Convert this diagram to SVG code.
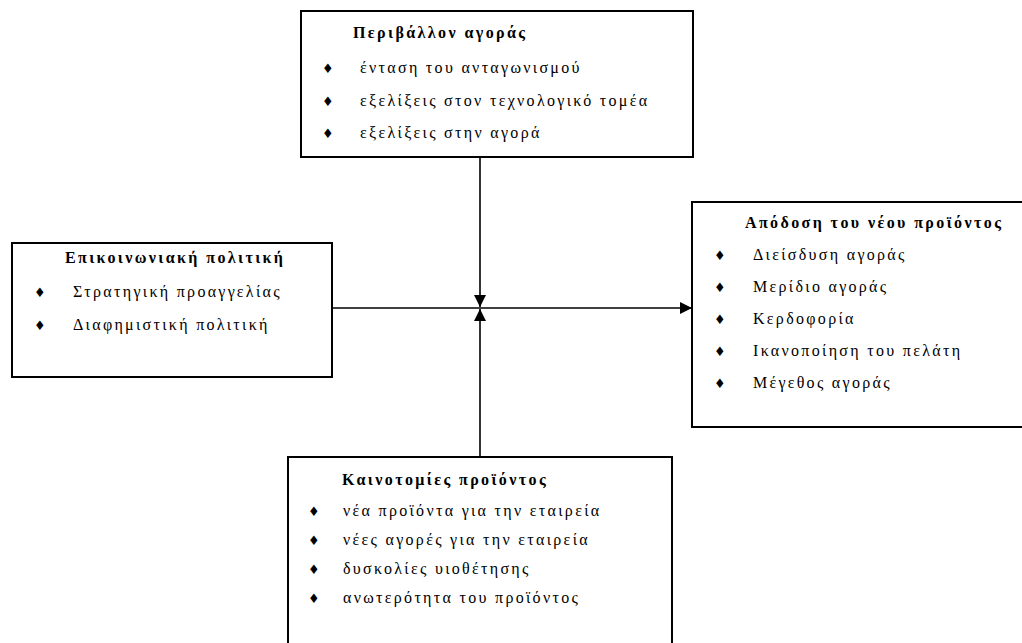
<svg xmlns="http://www.w3.org/2000/svg" width="1022" height="643" viewBox="0 0 1022 643">
<style>
.box{fill:#fff;stroke:#000;stroke-width:2}
.t{font-family:"Liberation Serif","Times New Roman",serif;font-size:16px;fill:#000;letter-spacing:2.3px}
.h{font-family:"Liberation Serif","Times New Roman",serif;font-size:16px;font-weight:bold;fill:#000;letter-spacing:2.4px}
.b{font-family:"DejaVu Sans",sans-serif;font-size:13px;fill:#000}
.ln{stroke:#000;stroke-width:1.6;fill:none}
</style>
<defs>
<marker id="ah" viewBox="0 0 12 12" refX="12" refY="6" markerWidth="12" markerHeight="12" markerUnits="userSpaceOnUse" orient="auto">
<path d="M0,0 L12,6 L0,12 Z" fill="#000"/>
</marker>
</defs>
<rect width="1022" height="643" fill="#fff"/>
<g id="connectors">
<line class="ln" x1="480" y1="157" x2="480" y2="307" marker-end="url(#ah)"/>
<line class="ln" x1="480" y1="457" x2="480" y2="309" marker-end="url(#ah)"/>
<line class="ln" x1="332" y1="308" x2="692" y2="308" marker-end="url(#ah)"/>
</g>
<g id="market">
<rect class="box" x="301" y="11" width="392" height="146"/>
<text class="h" x="353" y="38">Περιβάλλον αγοράς</text>
<text class="b" x="322" y="73">♦</text>
<text class="t" x="360" y="73">ένταση του ανταγωνισμού</text>
<text class="b" x="322" y="106">♦</text>
<text class="t" x="360" y="106">εξελίξεις στον τεχνολογικό τομέα</text>
<text class="b" x="322" y="138">♦</text>
<text class="t" x="360" y="138">εξελίξεις στην αγορά</text>
</g>
<g id="communication">
<rect class="box" x="12" y="243" width="320" height="134"/>
<text class="h" x="65" y="263">Επικοινωνιακή πολιτική</text>
<text class="b" x="34" y="297">♦</text>
<text class="t" x="73" y="297">Στρατηγική προαγγελίας</text>
<text class="b" x="34" y="330">♦</text>
<text class="t" x="73" y="330">Διαφημιστική πολιτική</text>
</g>
<g id="performance">
<rect class="box" x="692" y="202" width="345" height="225"/>
<text class="h" x="745" y="228">Απόδοση του νέου προϊόντος</text>
<text class="b" x="714" y="260">♦</text>
<text class="t" x="753" y="260">Διείσδυση αγοράς</text>
<text class="b" x="714" y="292">♦</text>
<text class="t" x="753" y="292">Μερίδιο αγοράς</text>
<text class="b" x="714" y="324">♦</text>
<text class="t" x="753" y="324">Κερδοφορία</text>
<text class="b" x="714" y="356">♦</text>
<text class="t" x="753" y="356">Ικανοποίηση του πελάτη</text>
<text class="b" x="714" y="388">♦</text>
<text class="t" x="753" y="388">Μέγεθος αγοράς</text>
</g>
<g id="innovations">
<rect class="box" x="288" y="457" width="384" height="200"/>
<text class="h" x="342" y="485">Καινοτομίες προϊόντος</text>
<text class="b" x="308" y="516">♦</text>
<text class="t" x="343" y="516">νέα προϊόντα για την εταιρεία</text>
<text class="b" x="308" y="545">♦</text>
<text class="t" x="343" y="545">νέες αγορές για την εταιρεία</text>
<text class="b" x="308" y="574">♦</text>
<text class="t" x="343" y="574">δυσκολίες υιοθέτησης</text>
<text class="b" x="308" y="603">♦</text>
<text class="t" x="343" y="603">ανωτερότητα του προϊόντος</text>
</g>
</svg>
